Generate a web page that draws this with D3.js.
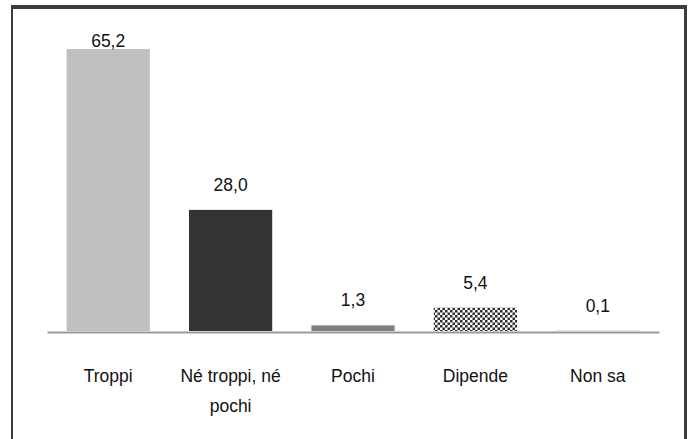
<!DOCTYPE html>
<html>
<head>
<meta charset="utf-8">
<script src="https://cdn.jsdelivr.net/npm/d3@7"></script>
<style>
  html, body { margin: 0; padding: 0; background: #fff; }
  svg { display: block; }
  text { font-family: "Liberation Sans", Arial, sans-serif; fill: #111; }
</style>
</head>
<body>
<svg id="chart" width="689" height="439"></svg>
<script>
// Chart data
const categories = ["Troppi", "Né troppi, né pochi", "Pochi", "Dipende", "Non sa"];
const values = [65.2, 28.0, 1.3, 5.4, 0.1];
const valueLabels = ["65,2", "28,0", "1,3", "5,4", "0,1"];
const categoryLines = [["Troppi"], ["Né troppi, né", "pochi"], ["Pochi"], ["Dipende"], ["Non sa"]];
const fills = ["#c0c0c0", "#333333", "#808080", "url(#checker)", "#c0c0c0"];

const W = 689, H = 439;
const svg = d3.select("#chart");

// Checkerboard pattern used by the "Dipende" bar
const cell = 2.5;
const defs = svg.append("defs");
const pat = defs.append("pattern")
  .attr("id", "checker")
  .attr("patternUnits", "userSpaceOnUse")
  .attr("width", cell * 2).attr("height", cell * 2);
pat.append("rect").attr("width", cell * 2).attr("height", cell * 2).attr("fill", "#ffffff");
pat.append("rect").attr("x", 0).attr("y", 0).attr("width", cell).attr("height", cell).attr("fill", "#303030");
pat.append("rect").attr("x", cell).attr("y", cell).attr("width", cell).attr("height", cell).attr("fill", "#303030");

// Outer frame (top, left, right edges)
const frame = svg.append("g").attr("stroke", "#3c3c3c").attr("fill", "none");
frame.append("line").attr("x1", 11).attr("x2", 687).attr("y1", 7).attr("y2", 7).attr("stroke-width", 4);
frame.append("line").attr("x1", 12).attr("x2", 12).attr("y1", 5).attr("y2", H).attr("stroke-width", 2);
frame.append("line").attr("x1", 685.5).attr("x2", 685.5).attr("y1", 5).attr("y2", H).attr("stroke-width", 3);

// Scales
const x = d3.scaleBand().domain(categories).range([47, 659]).paddingInner(0.32).paddingOuter(0.16);
const baseY = 331;
const y = d3.scaleLinear().domain([0, 65.2]).range([baseY, 49]);

// Bars
svg.append("g").selectAll("rect")
  .data(values)
  .join("rect")
  .attr("x", (d, i) => x(categories[i]))
  .attr("y", d => y(d))
  .attr("width", x.bandwidth())
  .attr("height", d => baseY - y(d))
  .attr("fill", (d, i) => fills[i]);

// Baseline axis
const xAxis = svg.append("g").attr("transform", `translate(0,${baseY + 1})`)
  .call(d3.axisBottom(x).tickSize(0).tickFormat(""));
xAxis.select(".domain").attr("stroke", "#999999").attr("stroke-width", 2);

// Value labels
svg.append("g").selectAll("text")
  .data(values)
  .join("text")
  .attr("x", (d, i) => x(categories[i]) + x.bandwidth() / 2)
  .attr("y", d => Math.max(y(d) - 19, 47))
  .attr("text-anchor", "middle")
  .attr("font-size", 17.5)
  .text((d, i) => valueLabels[i]);

// Category labels (wrapped)
const cat = svg.append("g").selectAll("text")
  .data(categoryLines)
  .join("text")
  .attr("text-anchor", "middle")
  .attr("font-size", 17.5)
  .attr("x", (d, i) => x(categories[i]) + x.bandwidth() / 2)
  .attr("y", 382);
cat.selectAll("tspan")
  .data(d => d)
  .join("tspan")
  .attr("x", function() { return d3.select(this.parentNode).attr("x"); })
  .attr("dy", (d, j) => j === 0 ? 0 : 30)
  .text(d => d);
</script>
</body>
</html>
